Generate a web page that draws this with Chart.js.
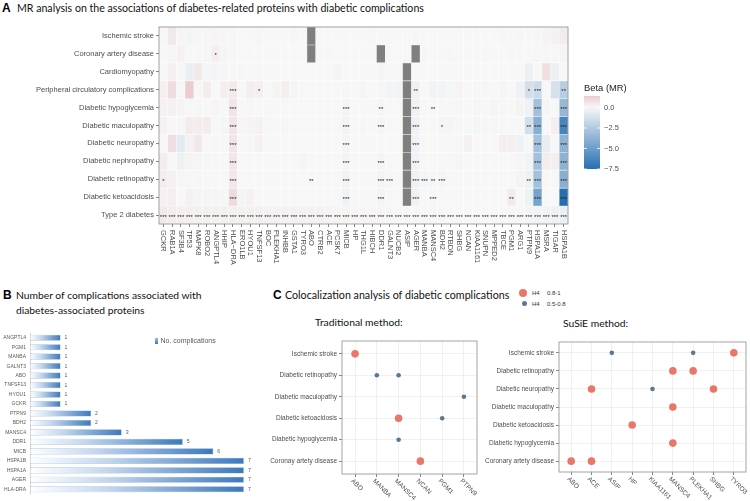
<!DOCTYPE html>
<html>
<head>
<meta charset="utf-8">
<script src="https://cdn.jsdelivr.net/npm/chart.js@4.4.1/dist/chart.umd.min.js"></script>
<style>
  body { margin: 0; width: 750px; height: 501px; background: #fff; position: relative; overflow: hidden; }
  canvas { position: absolute; }
  .t { position: absolute; white-space: nowrap; font-family: Lato, 'Open Sans', sans-serif; font-size: 10.3px; height: 14px; line-height: 14px; color: #111; }
  .p { position: absolute; font-family: 'Liberation Sans', Arial, sans-serif; font-weight: bold; font-size: 12px; height: 14px; line-height: 14px; color: #000; }
  .lg { position: absolute; font-family: 'Liberation Sans', Arial, sans-serif; font-size: 6px; color: #333; height: 10px; line-height: 10px; white-space: nowrap; }
  .dot { position: absolute; border-radius: 50%; }
</style>
</head>
<body>
<div class="p" style="left:2px;top:1px">A</div>
<div class="t" style="left:17px;top:1px;font-size:10.6px">MR analysis on the associations of diabetes-related proteins with diabetic complications</div>
<canvas id="heat" width="680" height="266" style="left:0;top:18px"></canvas>

<div class="p" style="left:3px;top:288px">B</div>
<div class="t" style="left:16px;top:288px">Number of complications associated with</div>
<div class="t" style="left:16px;top:303px">diabetes-associated proteins</div>
<canvas id="bars" width="262" height="175" style="left:0;top:326px"></canvas>

<div class="p" style="left:273px;top:288px">C</div>
<div class="t" style="left:285px;top:288px;font-size:10.7px">Colocalization analysis of diabetic complications</div>
<div class="dot" style="left:519px;top:289px;width:8px;height:8px;background:#E8776A"></div>
<div class="dot" style="left:521.5px;top:300.5px;width:5px;height:5px;background:#5E7890"></div>
<div class="lg" style="left:532px;top:288px">H4</div>
<div class="lg" style="left:547px;top:288px">0.8-1</div>
<div class="lg" style="left:532px;top:298.5px">H4</div>
<div class="lg" style="left:547px;top:298.5px">0.5-0.8</div>
<div class="t" style="left:315px;top:315px">Traditional method:</div>
<div class="t" style="left:563px;top:316px">SuSiE method:</div>
<canvas id="trad" width="230" height="171" style="left:255px;top:330px"></canvas>
<canvas id="susie" width="268" height="171" style="left:482px;top:330px"></canvas>

<script>
// ---------- panel A data ----------
const proteins = ["GCKR","RAB1A","SF3B4","TP53","MAPK8","ROBO2","ANGPTL4","HHIP","HLA\u2212DRA","ERO1LB",
  "HYOU1","TNFSF13","BOC","PLEKHA1","INHBB","GSTA1","TYRO3","ABO","CTRB2","ACE",
  "PCSK7","MICB","HP","THG1L","HIBCH","DDR1","GALNT3","NUCB2","ASIP","AGER",
  "MANBA","MANSC4","BDH2","RTBDN","SHBG","NCAN","KIAA1161","SNUPN","MPPED2","TBCE",
  "PGM1","ARG1","PTPN9","HSPA1A","MSRA","TIGAR","HSPA1B"];
const outcomes = ["Ischemic stroke","Coronary artery disease","Cardiomyopathy","Peripheral circulatory complications",
  "Diabetic hypoglycemia","Diabetic maculopathy","Diabetic neuropathy","Diabetic nephropathy",
  "Diabetic retinopathy","Diabetic ketoacidosis","Type 2 diabetes"];

// beta (MR) per outcome, one value per protein; null = not tested (grey)
const betaIschemic = [0.05,0.5,0.1,-0.15,0.05,0.05,0.1,0.05,0.05,0,
  0,0.02,0,0,0,0.05,0,null,0,0,
  0,0,0,0,-0.05,0,0,0,0,0.02,
  0,0,0,0,0,0,0,0,0,0.02,
  0,0.05,0,0.05,0.15,0.2,0.4];
const betaCoronary = [0,-0.1,0.2,0,0,0.05,0.3,0.1,0.05,0,
  0,0,0,0,0,0,0,null,0,0.05,
  0,0,0,0,0,null,0,0,0,null,
  0.05,0,0,0.05,0,0,0,0.05,0,0,
  0.05,0,0,-0.05,0.05,-0.05,0.1];
const betaCardio = [0,0.3,0.05,-0.5,0.5,-0.1,-0.15,0.1,0,0.05,
  0,0.05,0,0,0,0,0,0,0,0,
  0.12,0,0,0,0,0.1,0.05,0,null,0,
  0,0,0,0,0,0,0,0,0,0,
  0,0,-0.4,0,0.8,-0.4,0];
const betaPeripheral = [0.25,0.9,0.05,1.4,-0.05,0.35,0,0.3,0.45,0,
  0.35,0.3,0,0.15,0.3,0.1,0,0,0,0,
  0,-0.05,0,-0.1,0,-0.05,-0.15,-0.15,null,-0.3,
  0,-0.2,-0.2,-0.1,0.15,0,-0.05,-0.05,0,-0.1,
  0,-0.3,-1.3,-1.6,0,-1.2,-2.3];
const betaHypo = [0.2,0.2,0.15,0.05,-0.05,0,0.1,0,0.6,0,
  0.05,0,0,0,0,0,0,0,0,0,
  0,-0.15,0,0,0,-0.1,0,0,null,-0.3,
  0,0,0,0,-0.05,0,-0.05,0,-0.1,-0.05,
  0,0.15,-0.3,-3.0,-0.1,0,-3.5];
const betaMacu = [0.2,0,-0.05,0.4,0.35,0.4,0,-0.1,0.6,0.1,
  0.15,0.2,0.05,0,0.05,0,0,0,0,0,
  0,-0.2,0,0.05,0,-0.1,0,0,null,-0.3,
  0,0,-0.1,-0.1,-0.05,0,-0.1,0.05,-0.05,0,
  0,0,-1.3,-4.0,0,0.3,-6.3];
const betaNeuro = [0,0.8,-0.7,0.2,0.5,0,0.05,0.05,0.6,0,
  0.05,0.2,0,0,0,0,0,0,0,0,
  0,-0.15,0,0,0,0,0,0,null,-0.25,
  0,0,0,-0.05,-0.05,0.2,0,0,0,0.3,
  0.3,-0.3,0,-3.0,-0.5,0,-3.8];
const betaNephro = [0.4,0,-0.35,0.15,0.1,-0.05,0.05,0,0.55,0,
  0,0,0,0,0,0,0.1,0,0,0,
  0,-0.15,0,0,0,-0.1,0,0,null,-0.25,
  0,0,0,-0.05,-0.1,0,0,0,0,0,
  0,-0.1,-0.2,-3.0,0.35,0.3,-3.8];
const betaRetino = [0.35,0.2,-0.05,0.05,0.05,0,0,0,0.5,0,
  0,0,0,0,0,0,0,0.05,0,0,
  0,-0.2,0,0,0,-0.15,-0.1,0,null,-0.3,
  -0.1,-0.05,-0.1,0,0,0,0,0,0,0,
  0,0.15,-0.3,-3.0,0,0,-4.0];
const betaKeto = [0.2,0.3,0,0.2,0.1,-0.1,0.1,0.05,0.95,-0.15,
  0.2,0,0,0,0,0,0,0,0,0,
  0,-0.25,0,0,0,-0.15,0,0,null,-0.3,
  0,-0.05,0,0,0,0,0,0,0,0,
  0.45,0,-0.3,-4.6,0,0,-7.5];
const betaT2D = [0.45,0.35,0.3,0.3,0.25,0.25,0.25,0.25,0.25,0.25,
  0.25,0.25,0.2,0.2,0.2,0.2,0.2,0.2,0.2,0.15,
  0.15,0.15,0.1,0.1,0.1,0.1,0.1,0.05,0.05,0.05,
  0.05,0.05,0.05,0,0,0,0,0,0,0,
  -0.05,-0.05,-0.15,-0.2,-0.2,-0.3,-0.4];
const heatRows = [betaIschemic, betaCoronary, betaCardio, betaPeripheral, betaHypo, betaMacu,
  betaNeuro, betaNephro, betaRetino, betaKeto, betaT2D];

// significance marks per outcome (protein -> stars); T2D: all proteins ***
const starsCoronary = { ANGPTL4: "*" };
const starsPeripheral = { "HLA\u2212DRA": "***", TNFSF13: "*", AGER: "**", PTPN9: "*", HSPA1A: "***", HSPA1B: "**" };
const starsHypo = { "HLA\u2212DRA": "***", MICB: "***", DDR1: "**", AGER: "***", MANSC4: "**", HSPA1A: "***", HSPA1B: "***" };
const starsMacu = { "HLA\u2212DRA": "***", MICB: "***", DDR1: "***", AGER: "***", BDH2: "*", PTPN9: "**", HSPA1A: "***", HSPA1B: "***" };
const starsNeuro = { "HLA\u2212DRA": "***", MICB: "***", AGER: "***", HSPA1A: "***", HSPA1B: "***" };
const starsNephro = { "HLA\u2212DRA": "***", MICB: "***", DDR1: "***", AGER: "***", HSPA1A: "***", HSPA1B: "***" };
const starsRetino = { GCKR: "*", "HLA\u2212DRA": "***", ABO: "**", MICB: "***", DDR1: "***", GALNT3: "***", AGER: "***",
  MANBA: "***", MANSC4: "**", BDH2: "***", PTPN9: "**", HSPA1A: "***", HSPA1B: "***" };
const starsKeto = { "HLA\u2212DRA": "***", MICB: "***", DDR1: "***", AGER: "***", MANSC4: "***", PGM1: "**", HSPA1A: "***", HSPA1B: "***" };
const starsT2D = Object.fromEntries(proteins.map(p => [p, "***"]));
const heatStars = [{}, starsCoronary, {}, starsPeripheral, starsHypo, starsMacu, starsNeuro, starsNephro, starsRetino, starsKeto, starsT2D];
const legendTicks = [0, -2.5, -5, -7.5];

// ---------- panel B data ----------
const bProteins = ["ANGPTL4","PGM1","MANBA","GALNT3","ABO","TNFSF13","HYOU1","GCKR","PTPN9","BDH2",
  "MANSC4","DDR1","MICB","HSPA1B","HSPA1A","AGER","HLA-DRA"];
const bCounts = [1,1,1,1,1,1,1,1,2,2,3,5,6,7,7,7,7];

// ---------- panel C data ----------
const tradProteins = ["ABO","MANBA","MANSC4","NCAN","PGM1","PTPN9"];
const tradOutcomes = ["Ischemic stroke","Diabetic retinopathy","Diabetic maculopathy","Diabetic ketoacidosis","Diabetic hypoglycemia","Coronay artety disease"];
const tradHigh = [["ABO","Ischemic stroke"],["MANSC4","Diabetic ketoacidosis"],["NCAN","Coronay artety disease"]];
const tradMid = [["MANBA","Diabetic retinopathy"],["MANSC4","Diabetic retinopathy"],["PTPN9","Diabetic maculopathy"],
  ["PGM1","Diabetic ketoacidosis"],["MANSC4","Diabetic hypoglycemia"]];
const susieProteins = ["ABO","ACE","ASIP","HP","KIAA1161","MANSC4","PLEKHA1","SHBG","TYRO3"];
const susieOutcomes = ["Ischemic stroke","Diabetic retinopathy","Diabetic neuropathy","Diabetic maculopathy","Diabetic ketoacidosis","Diabetic hypoglycemia","Coronary artety disease"];
const susieHigh = [["TYRO3","Ischemic stroke"],["MANSC4","Diabetic retinopathy"],["PLEKHA1","Diabetic retinopathy"],
  ["ACE","Diabetic neuropathy"],["SHBG","Diabetic neuropathy"],["MANSC4","Diabetic maculopathy"],
  ["HP","Diabetic ketoacidosis"],["MANSC4","Diabetic hypoglycemia"],["ABO","Coronary artety disease"],["ACE","Coronary artety disease"]];
const susieMid = [["ASIP","Ischemic stroke"],["PLEKHA1","Ischemic stroke"],["KIAA1161","Diabetic neuropathy"]];

// ---------- helpers ----------
Chart.defaults.font.family = "'Liberation Sans', Arial, sans-serif";
Chart.defaults.color = "#4d4d4d";
const SANS = "'Liberation Sans', Arial, sans-serif";

const MID = [247,247,247], LOW = [38,112,178], HIGH = [178,24,43];
const allBeta = heatRows.flat().filter(v => v !== null);
const betaMin = Math.min(...allBeta), betaMax = Math.max(...allBeta);
const lim = Math.max(Math.abs(betaMin), Math.abs(betaMax));
function betaColor(v) {
  if (v === null) return "#7f7f7f";
  const t = Math.min(Math.abs(v) / lim, 1), end = v < 0 ? LOW : HIGH;
  return "rgb(" + MID.map((m, i) => Math.round(m + (end[i] - m) * t)).join(",") + ")";
}

const panelBorder = {
  id: "panelBorder",
  afterDraw(chart, args, opts) {
    const a = chart.chartArea, c = chart.ctx;
    c.save();
    c.strokeStyle = opts.color || "#888";
    c.lineWidth = opts.width || 0.8;
    c.strokeRect(a.left, a.top, a.right - a.left, a.bottom - a.top);
    c.restore();
  }
};

function rotatedXLabels(labels, angle, size, dx, dy) {
  return {
    id: "rotx",
    afterDraw(chart) {
      const s = chart.scales.x, c = chart.ctx;
      c.save();
      c.font = size + "px " + SANS;
      c.fillStyle = "#4d4d4d";
      c.textAlign = "left";
      c.textBaseline = "middle";
      labels.forEach((lab, i) => {
        c.save();
        c.translate(s.getPixelForValue(i) + dx, chart.chartArea.bottom + dy);
        c.rotate(angle);
        c.fillText(lab, 0, 0);
        c.restore();
      });
      c.restore();
    }
  };
}

// ---------- panel A: heatmap ----------
const nRows = outcomes.length;
const heatExtras = {
  id: "heatExtras",
  afterDatasetsDraw(chart) {
    const c = chart.ctx, xs = chart.scales.x, ys = chart.scales.y;
    c.save();
    c.font = "6px " + SANS;
    c.fillStyle = "#222";
    c.textAlign = "center";
    c.textBaseline = "alphabetic";
    heatStars.forEach((row, r) => {
      Object.entries(row).forEach(([p, s]) => {
        const i = proteins.indexOf(p);
        c.fillText(s, xs.getPixelForValue(i), ys.getPixelForValue(nRows - 0.5 - r) + 3.6);
      });
    });
    c.restore();
  },
  afterDraw(chart) {
    const c = chart.ctx;
    const lx = 584, lw = 16, top = 78, bottom = 151;
    const vy = v => top + (betaMax - v) / (betaMax - betaMin) * (bottom - top);
    c.save();
    c.font = "9.4px " + SANS;
    c.fillStyle = "#222";
    c.textBaseline = "middle";
    c.fillText("Beta (MR)", lx, 70);
    const g = c.createLinearGradient(0, top, 0, bottom);
    for (let k = 0; k <= 20; k++) {
      const v = betaMax - (betaMax - betaMin) * k / 20;
      g.addColorStop(k / 20, betaColor(v));
    }
    c.fillStyle = g;
    c.fillRect(lx, top, lw, bottom - top);
    c.strokeStyle = "#fff";
    c.lineWidth = 0.8;
    c.font = "7.5px " + SANS;
    c.fillStyle = "#4d4d4d";
    legendTicks.forEach(v => {
      const y = vy(v);
      c.beginPath();
      c.moveTo(lx, y); c.lineTo(lx + 3, y);
      c.moveTo(lx + lw - 3, y); c.lineTo(lx + lw, y);
      c.stroke();
      c.fillText(v.toFixed(1).replace("-", "\u2212"), lx + lw + 4, y);
    });
    c.restore();
  }
};

new Chart(document.getElementById("heat"), {
  type: "bar",
  data: {
    labels: proteins,
    datasets: heatRows.map((row, r) => ({
      label: outcomes[r],
      data: proteins.map(() => [nRows - 1 - r, nRows - r]),
      backgroundColor: row.map(betaColor),
      borderColor: row.map(betaColor),
      borderWidth: 0.4,
      borderSkipped: false,
      barPercentage: 1.03,
      categoryPercentage: 1,
      grouped: false
    }))
  },
  options: {
    responsive: false,
    animation: false,
    events: [],
    layout: { padding: { top: 9, right: 112, bottom: 0, left: 0 } },
    plugins: { legend: { display: false }, tooltip: { enabled: false }, panelBorder: { color: "#8a8a8a", width: 0.8 } },
    scales: {
      x: {
        ticks: { display: false },
        grid: { offset: false, drawOnChartArea: false, tickLength: 3, color: "#333", lineWidth: 0.6 },
        border: { display: false },
        afterFit: s => { s.height = 60; }
      },
      y: {
        min: 0, max: nRows,
        afterBuildTicks: s => { s.ticks = outcomes.map((_, i) => ({ value: i + 0.5 })); },
        ticks: { callback: v => outcomes[nRows - 1 - Math.floor(v)], font: { size: 7.5 }, color: "#4d4d4d", padding: 2, autoSkip: false },
        grid: { drawOnChartArea: false, tickLength: 3, color: "#333", lineWidth: 0.6 },
        border: { display: false },
        afterFit: s => { s.width = 159; }
      }
    }
  },
  plugins: [heatExtras, panelBorder, rotatedXLabels(proteins, Math.PI / 2, 7.5, 0, 6)]
});

// ---------- panel B: horizontal bars ----------
function barGradient(ctx) {
  const chart = ctx.chart, area = chart.chartArea;
  if (!area || ctx.type !== "data") return "#5b8fc9";
  const x0 = chart.scales.x.getPixelForValue(0), x1 = chart.scales.x.getPixelForValue(ctx.raw);
  const g = chart.ctx.createLinearGradient(x0, 0, x1, 0);
  g.addColorStop(0, "#ffffff");
  g.addColorStop(0.35, "#c6d8ee");
  g.addColorStop(1, "#3d78bb");
  return g;
}
const bExtras = {
  id: "bExtras",
  afterDatasetsDraw(chart) {
    const c = chart.ctx, meta = chart.getDatasetMeta(0);
    c.save();
    c.font = "5.2px " + SANS;
    c.fillStyle = "#595959";
    c.textBaseline = "middle";
    meta.data.forEach((bar, i) => c.fillText(String(bCounts[i]), bar.x + 4, bar.y));
    const g = c.createLinearGradient(0, 12, 0, 18);
    g.addColorStop(0, "#9dbde3"); g.addColorStop(1, "#3d78bb");
    c.fillStyle = g;
    c.fillRect(155, 12, 3, 6);
    c.font = "7px " + SANS;
    c.fillStyle = "#595959";
    c.fillText(chart.data.datasets[0].label, 160.5, 15.5);
    c.restore();
  }
};
new Chart(document.getElementById("bars"), {
  type: "bar",
  data: {
    labels: bProteins,
    datasets: [{
      label: "No. complications",
      data: bCounts,
      backgroundColor: barGradient,
      borderColor: "#7ea6d6",
      borderWidth: 0.5,
      borderSkipped: false,
      barPercentage: 0.65,
      categoryPercentage: 1
    }]
  },
  options: {
    indexAxis: "y",
    responsive: false,
    animation: false,
    events: [],
    layout: { padding: { top: 4, right: 12, bottom: 4, left: 0 } },
    plugins: { legend: { display: false }, tooltip: { enabled: false } },
    scales: {
      x: { display: false, min: 0, max: 7.2 },
      y: {
        ticks: { font: { size: 5 }, color: "#595959", padding: 4, autoSkip: false },
        grid: { display: false, drawTicks: false },
        border: { display: true, color: "#d9d9d9", width: 1 },
        afterFit: s => { s.width = 30; }
      }
    }
  },
  plugins: [bExtras]
});

// ---------- panel C: colocalization dot plots ----------
function dotChart(id, prots, outs, high, mid, yWidth, xHeight, padTop, padRight) {
  const toPt = ([p, o]) => ({ x: prots.indexOf(p), y: outs.indexOf(o) });
  const axisGrid = { color: "#ebebeb", lineWidth: 0.7, tickLength: 3, tickColor: "#333", tickWidth: 0.6 };
  return new Chart(document.getElementById(id), {
    type: "scatter",
    data: {
      datasets: [
        { label: "H4 0.8-1", data: high.map(toPt), pointRadius: 3.8, backgroundColor: "#E8776A", borderWidth: 0 },
        { label: "H4 0.5-0.8", data: mid.map(toPt), pointRadius: 2.3, backgroundColor: "#5E7890", borderWidth: 0 }
      ]
    },
    options: {
      responsive: false,
      animation: false,
      events: [],
      layout: { padding: { top: padTop, right: padRight, bottom: 0, left: 0 } },
      plugins: { legend: { display: false }, tooltip: { enabled: false }, panelBorder: { color: "#9a9a9a", width: 0.9 } },
      scales: {
        x: {
          type: "linear", min: -0.6, max: prots.length - 0.4,
          afterBuildTicks: s => { s.ticks = prots.map((_, i) => ({ value: i })); },
          ticks: { display: false },
          grid: axisGrid,
          border: { display: false },
          afterFit: s => { s.height = xHeight; }
        },
        y: {
          type: "linear", reverse: true, min: -0.6, max: outs.length - 0.4,
          afterBuildTicks: s => { s.ticks = outs.map((_, i) => ({ value: i })); },
          ticks: { callback: v => outs[v], font: { size: 6.5 }, color: "#4d4d4d", padding: 2, autoSkip: false },
          grid: axisGrid,
          border: { display: false },
          afterFit: s => { s.width = yWidth; }
        }
      }
    },
    plugins: [panelBorder, rotatedXLabels(prots, Math.PI / 4, 6.5, -3, 6)]
  });
}
dotChart("trad", tradProteins, tradOutcomes, tradHigh, tradMid, 87, 27, 11, 8);
dotChart("susie", susieProteins, susieOutcomes, susieHigh, susieMid, 77, 29, 12, 4);
</script>
</body>
</html>
